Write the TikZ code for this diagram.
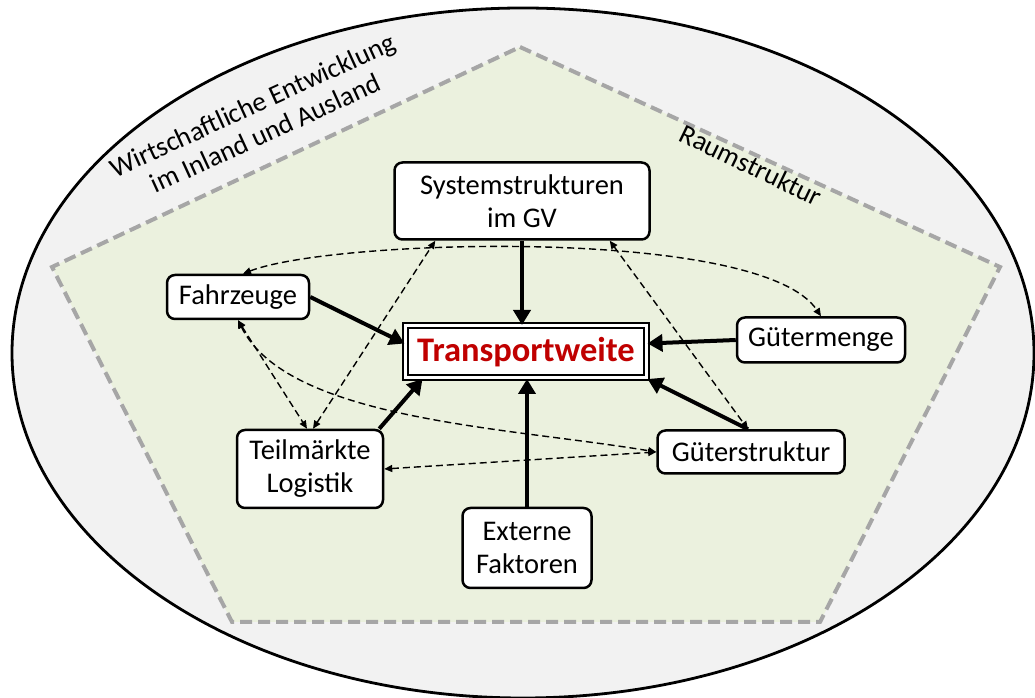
\documentclass[tikz,border=0pt]{standalone}
\usepackage{fontspec}
\setmainfont{Carlito}
\usepackage{xcolor}
\usepackage{tikz}
\usetikzlibrary{shapes,arrows.meta,positioning,calc}

\definecolor{umfeldgray}{HTML}{F2F2F2}
\definecolor{raumgreen}{HTML}{EBF1DE}
\definecolor{dashgray}{HTML}{A6A6A6}
\definecolor{weitered}{HTML}{C00000}

\begin{document}
\begin{tikzpicture}[
    x=1pt, y=1pt,
    factor/.style={rectangle, draw, line width=2.5pt, fill=white, rounded corners=8pt, align=center, inner sep=0pt, font=\fontsize{28.5}{33}\selectfont},
    target/.style={rectangle, draw, line width=2pt, double=white, double distance=3pt, fill=white, inner sep=0pt, minimum width=241pt, minimum height=52pt, text=weitered, font=\fontsize{34.5}{40}\selectfont\bfseries},
    region/.style={font=\fontsize{27.5}{31}\selectfont, align=center},
    influence/.style={-{Triangle[length=15pt,width=17pt]}, line width=4pt},
    relation/.style={{Triangle[length=8pt,width=7pt]}-{Triangle[length=8pt,width=7pt]}, line width=1.4pt, dash pattern=on 7pt off 4pt}
]
\useasboundingbox (0,0) rectangle (1035,698);

% Umfeld and Raum
\draw[line width=2.8pt, fill=umfeldgray] (523,345) ellipse [x radius=511, y radius=345];
\draw[dashgray, line width=4pt, dash pattern=on 12pt off 6pt, fill=raumgreen]
    (520,651) -- (1000,431) -- (820,76) -- (232,76) -- (52,431) -- cycle;
\node[region, rotate=24.6] (umfeld) at (259,579) {Wirtschaftliche Entwicklung\\im Inland und Ausland};
\node[region, rotate=-25.8] (raum) at (751,533) {Raumstruktur};

% Factors
\node[target] (weite) at (526,346) {Transportweite};
\node[factor, minimum width=255pt, minimum height=77pt] (system) at (522,497) {Systemstrukturen\\im GV};
\node[factor, minimum width=142pt, minimum height=44pt] (fahrzeuge) at (238,401) {Fahrzeuge};
\node[factor, minimum width=146pt, minimum height=78pt] (teilmarkt) at (310,229) {Teilmärkte\\Logistik};
\node[factor, minimum width=129pt, minimum height=80pt] (extern) at (527,150) {Externe\\Faktoren};
\node[factor, minimum width=187pt, minimum height=43pt] (struktur) at (751,246) {Güterstruktur};
\node[factor, minimum width=168pt, minimum height=45pt] (menge) at (821,358) {Gütermenge};

% Direct influences
\draw[influence] (system.south) -- (system.south |- weite.north);
\draw[influence] (fahrzeuge.east) -- (weite.176);
\draw[influence] ([xshift=-5pt]teilmarkt.north east) -- ([xshift=18pt]weite.south west);
\draw[influence] (extern.north) -- (extern.north |- weite.south);
\draw[influence] (menge.west) -- (weite.4);
\draw[influence] ([xshift=-3pt]struktur.north) -- (weite.south east);

% Mutual relations
\draw[relation] ([xshift=5pt]fahrzeuge.north) .. controls +(90,35) and +(-60,90) .. (menge.north);
\draw[relation] (fahrzeuge.south) -- ([xshift=-3pt]teilmarkt.north);
\draw[relation] (fahrzeuge.south) .. controls +(50,-100) and +(-150,25) .. (struktur.west);
\draw[relation] ([xshift=3pt]teilmarkt.north) -- ([xshift=42pt]system.south west);
\draw[relation] ([xshift=-41pt]system.south east) -- ([xshift=-3pt]struktur.north);
\draw[relation] (teilmarkt.east) -- (struktur.west);

\end{tikzpicture}
\end{document}
